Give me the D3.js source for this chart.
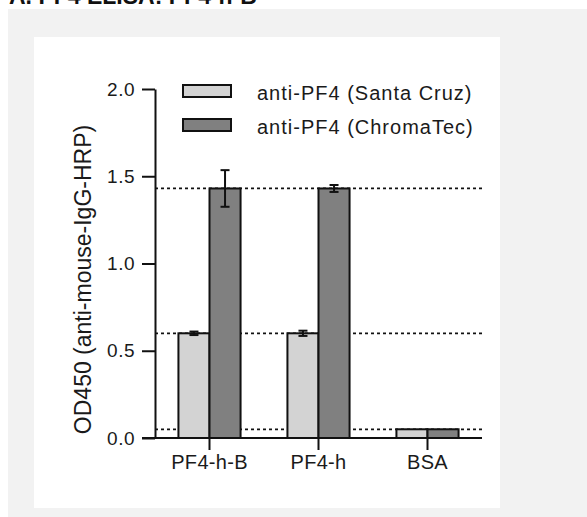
<!DOCTYPE html>
<html>
<head>
<meta charset="utf-8">
<script src="https://cdn.jsdelivr.net/npm/d3@7"></script>
<style>
  body { margin: 0; background: #fff; }
  svg { display: block; font-family: "Liberation Sans", Arial, sans-serif; }
</style>
</head>
<body>
<svg width="587" height="517"></svg>
<script>
const groups = ["PF4-h-B", "PF4-h", "BSA"];
const series = ["anti-PF4 (Santa Cruz)", "anti-PF4 (ChromaTec)"];
const santaCruz = [0.60, 0.60, 0.05];
const santaCruzErr = [0.01, 0.015, 0];
const chromaTec = [1.43, 1.43, 0.05];
const chromaTecErr = [0.105, 0.02, 0];
const refLevels = [1.43, 0.60, 0.05];
const yTicks = [0, 0.5, 1.0, 1.5, 2.0];
const colors = ["#d3d3d3", "#808080"];

const svg = d3.select("svg");

// backgrounds
svg.append("rect").attr("x", 8).attr("y", 9).attr("width", 579).attr("height", 508).attr("fill", "#f2f2f2");
svg.append("rect").attr("x", 34).attr("y", 37).attr("width", 466).attr("height", 471).attr("fill", "#fff");

// title, cut off at the top like the source
svg.append("text")
    .attr("x", 9).attr("y", 4)
    .attr("font-size", 23).attr("font-weight", "bold").attr("fill", "#111")
    .text("A. PF4 ELISA: PF4-h-B");

const y = d3.scaleLinear().domain([0, 2]).range([438, 89]);
const x = d3.scaleBand().domain(groups).range([155, 482]).paddingInner(0.43).paddingOuter(0.215);
const sub = d3.scaleBand().domain([0, 1]).range([0, x.bandwidth()]);

const rows = groups.map((g, i) => ({
    group: g,
    vals: [
        {s: 0, v: santaCruz[i], e: santaCruzErr[i]},
        {s: 1, v: chromaTec[i], e: chromaTecErr[i]}
    ]
}));

// dotted reference lines
svg.append("g").selectAll("line")
    .data(refLevels)
    .enter().append("line")
        .attr("x1", x.range()[0]).attr("x2", x.range()[1])
        .attr("y1", d => y(d)).attr("y2", d => y(d))
        .attr("stroke", "#111").attr("stroke-width", 1.8)
        .attr("stroke-dasharray", "3,3");

// bars
const grp = svg.append("g").selectAll("g")
    .data(rows)
    .enter().append("g")
        .attr("transform", d => `translate(${x(d.group)},0)`);

grp.selectAll("rect")
    .data(d => d.vals)
    .enter().append("rect")
        .attr("x", d => sub(d.s))
        .attr("width", sub.bandwidth())
        .attr("y", d => y(d.v))
        .attr("height", d => y(0) - y(d.v))
        .attr("fill", d => colors[d.s])
        .attr("stroke", "#111").attr("stroke-width", 2);

// error bars
const err = grp.selectAll("g.err")
    .data(d => d.vals.filter(v => v.e > 0))
    .enter().append("g")
        .attr("class", "err")
        .attr("stroke", "#111").attr("stroke-width", 2);
err.append("line")
    .attr("x1", d => sub(d.s) + sub.bandwidth() / 2).attr("x2", d => sub(d.s) + sub.bandwidth() / 2)
    .attr("y1", d => y(d.v + d.e)).attr("y2", d => y(d.v - d.e));
err.selectAll("line.cap")
    .data(d => [d.v + d.e, d.v - d.e].map(t => ({s: d.s, t})))
    .enter().append("line")
        .attr("class", "cap")
        .attr("x1", d => sub(d.s) + sub.bandwidth() / 2 - 4.5)
        .attr("x2", d => sub(d.s) + sub.bandwidth() / 2 + 4.5)
        .attr("y1", d => y(d.t)).attr("y2", d => y(d.t));

// y axis
const yAxis = svg.append("g")
    .attr("transform", `translate(${x.range()[0]},0)`)
    .call(d3.axisLeft(y).tickValues(yTicks).tickFormat(d3.format(".1f")).tickSize(13).tickSizeOuter(0).tickPadding(7));
yAxis.select(".domain").attr("stroke", "#111").attr("stroke-width", 2);
yAxis.selectAll(".tick line").attr("stroke", "#111").attr("stroke-width", 2);
yAxis.selectAll(".tick text").attr("font-size", 19).attr("letter-spacing", 0.5).attr("fill", "#1a1a1a").attr("font-family", "Liberation Sans, Arial, sans-serif");

// x axis
const xAxis = svg.append("g")
    .attr("transform", `translate(0,${y(0)})`)
    .call(d3.axisBottom(x).tickSize(12).tickSizeOuter(0).tickPadding(5));
xAxis.select(".domain").remove();
xAxis.append("line")
    .attr("x1", x.range()[0] - 13).attr("x2", x.range()[1])
    .attr("stroke", "#111").attr("stroke-width", 2);
xAxis.selectAll(".tick line").attr("stroke", "#111").attr("stroke-width", 2);
xAxis.selectAll(".tick text").attr("font-size", 20).attr("letter-spacing", 0.3).attr("fill", "#1a1a1a").attr("font-family", "Liberation Sans, Arial, sans-serif");

// y axis label
svg.append("text")
    .attr("transform", `translate(91,${(y(0) + y(2)) / 2 + 16}) rotate(-90)`)
    .attr("text-anchor", "middle")
    .attr("font-size", 23).attr("fill", "#1a1a1a")
    .text("OD450 (anti-mouse-IgG-HRP)");

// legend
const leg = svg.append("g").selectAll("g")
    .data(series)
    .enter().append("g")
        .attr("transform", (d, i) => `translate(183,${85 + i * 34})`);
leg.append("rect")
    .attr("width", 48).attr("height", 12)
    .attr("fill", (d, i) => colors[i])
    .attr("stroke", "#111").attr("stroke-width", 2);
leg.append("text")
    .attr("x", 74).attr("y", 15)
    .attr("font-size", 20).attr("letter-spacing", 1).attr("fill", "#1a1a1a")
    .text(d => d);
</script>
</body>
</html>
